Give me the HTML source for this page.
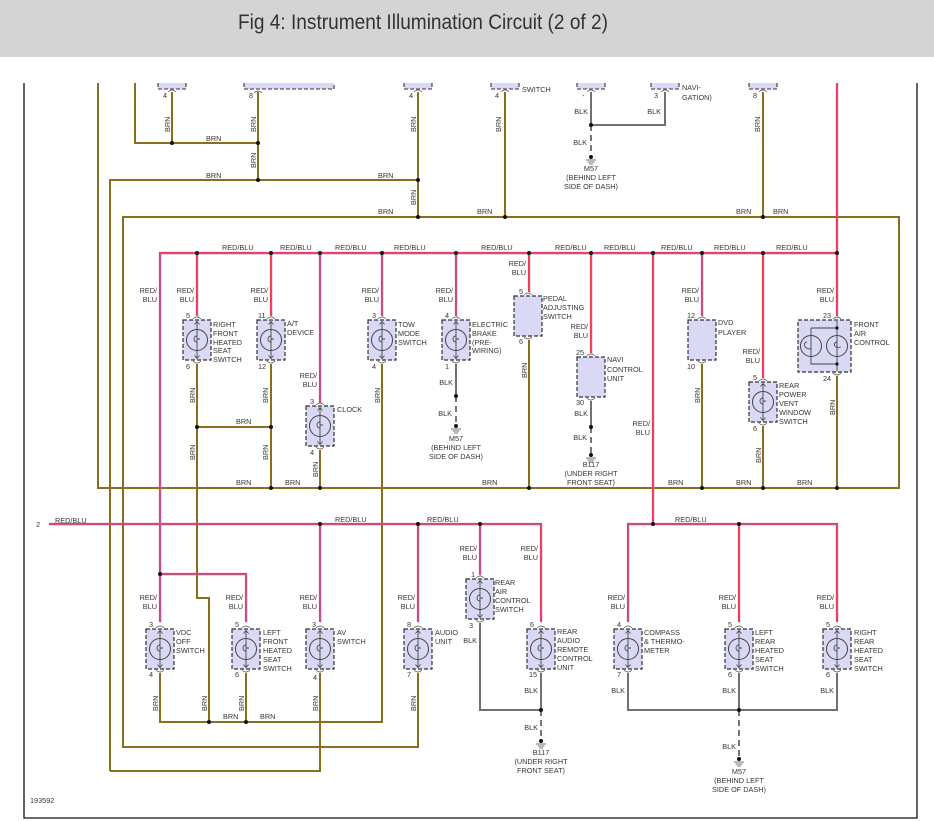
<!DOCTYPE html>
<html><head><meta charset="utf-8">
<style>
html,body{margin:0;padding:0;background:#fff;}
svg{display:block;}
text{font-family:"Liberation Sans",sans-serif;font-size:7.3px;fill:#3a3530;}
</style></head><body>
<svg width="934" height="821" viewBox="0 0 934 821" xmlns="http://www.w3.org/2000/svg">
<defs>
  <g id="lamp">
    <rect x="-14" y="0" width="28" height="40" fill="#d9d9f6" stroke="#333" stroke-width="1.2" stroke-dasharray="4,2"/>
    <circle cx="0" cy="20" r="10.5" fill="none" stroke="#444" stroke-width="1"/>
    <line x1="0" y1="2" x2="0" y2="38" stroke="#444" stroke-width="0.9"/>
    <path d="M-2.5,4.5 L0,1.5 L2.5,4.5 M-2.5,35.5 L0,38.5 L2.5,35.5" fill="none" stroke="#444" stroke-width="0.8"/>
    <path d="M0,16 C-4,16 -4,22 0,22 M0,19 L3,19" fill="none" stroke="#444" stroke-width="0.9"/>
    <path d="M-4,-1 Q0,-5 4,-1 M-4,41 Q0,45 4,41" fill="none" stroke="#555" stroke-width="0.8"/>
  </g>
  <g id="box">
    <rect x="-14" y="0" width="28" height="40" fill="#d9d9f6" stroke="#333" stroke-width="1.2" stroke-dasharray="4,2"/>
    <path d="M-4,-1 Q0,-5 4,-1 M-4,41 Q0,45 4,41" fill="none" stroke="#555" stroke-width="0.8"/>
  </g>
  <g id="stub">
    <path d="M-14,0 L-14,6 L14,6 L14,0" fill="#d9d9f6" stroke="#333" stroke-width="1.1" stroke-dasharray="4,2"/>
    <path d="M-4,9 Q0,5 4,9" fill="none" stroke="#555" stroke-width="0.8"/>
  </g>
  <g id="gnd">
    <circle cx="0" cy="0" r="2" fill="#111"/>
    <path d="M-5,3 H5 M-3.5,5 H3.5 M-2,7 H2" stroke="#444" stroke-width="0.8"/>
  </g>
</defs>

<rect x="0" y="0" width="934" height="57" fill="#d4d4d4"/>
<text x="238" y="29" style="font-size:21px;fill:#333" textLength="370" lengthAdjust="spacingAndGlyphs">Fig 4: Instrument Illumination Circuit (2 of 2)</text>

<path d="M24,83 V818 H917 V83" fill="none" stroke="#111" stroke-width="1.3"/>

<g fill="none" stroke="#8b6d1e" stroke-width="2">
  <path d="M98,83 V488 H899 V217 H123 V747 H418 V673"/>
  <path d="M110,771 V180 H418"/>
  <path d="M110,771 H320 V673"/>
  <path d="M135,83 V143 H258"/>
  <path d="M172,92 V143"/>
  <path d="M258,92 V180"/>
  <path d="M418,92 V217"/>
  <path d="M505,92 V217"/>
  <path d="M763,92 V217"/>
  <path d="M197,364 V598 H209 V722"/>
  <path d="M197,427 H271"/>
  <path d="M271,364 V488"/>
  <path d="M320,450 V488"/>
  <path d="M382,364 V722 H160 V673"/>
  <path d="M246,673 V722"/>
  <path d="M529,340 V488"/>
  <path d="M702,364 V488"/>
  <path d="M763,426 V488"/>
  <path d="M837,376 V488"/>
</g>

<g fill="none" stroke="#707070" stroke-width="2">
  <path d="M591,92 V125 H665 V92"/>
  <path d="M456,364 V396"/>
  <path d="M591,401 V427"/>
  <path d="M480,623 V710 H541 V673"/>
  <path d="M628,673 V710 H837 V673"/>
  <path d="M739,673 V710"/>
</g>
<g fill="none" stroke="#555" stroke-width="1.6" stroke-dasharray="6,4">
  <path d="M591,125 V156"/>
  <path d="M456,396 V425"/>
  <path d="M591,427 V453"/>
  <path d="M541,710 V739"/>
  <path d="M739,710 V757"/>
</g>

<g id="rb" fill="none">
  <path d="M160,622 V253 H837 V83"/>
  <path d="M160,574 H246 V622"/>
  <path d="M197,253 V316"/>
  <path d="M271,253 V316"/>
  <path d="M320,253 V403"/>
  <path d="M382,253 V316"/>
  <path d="M456,253 V316"/>
  <path d="M529,253 V292"/>
  <path d="M591,253 V353"/>
  <path d="M653,253 V524"/>
  <path d="M702,253 V316"/>
  <path d="M763,253 V378"/>
  <path d="M837,253 V316"/>
  <path d="M49,524 H541 V622"/>
  <path d="M320,524 V622"/>
  <path d="M418,524 V622"/>
  <path d="M480,524 V575"/>
  <path d="M628,622 V524 H837 V622"/>
  <path d="M739,524 V622"/>
</g>
<use href="#rb" stroke="#ee3c50" stroke-width="2.2"/>
<use href="#rb" stroke="#8a7ae8" stroke-width="0.6" transform="translate(0.9,0.9)"/>

<g fill="#111">
  <circle cx="172" cy="143" r="2"/><circle cx="258" cy="143" r="2"/>
  <circle cx="258" cy="180" r="2"/><circle cx="418" cy="180" r="2"/>
  <circle cx="418" cy="217" r="2"/><circle cx="505" cy="217" r="2"/><circle cx="763" cy="217" r="2"/>
  <circle cx="591" cy="125" r="2"/>
  <circle cx="197" cy="253" r="2"/><circle cx="271" cy="253" r="2"/><circle cx="320" cy="253" r="2"/>
  <circle cx="382" cy="253" r="2"/><circle cx="456" cy="253" r="2"/><circle cx="529" cy="253" r="2"/>
  <circle cx="591" cy="253" r="2"/><circle cx="653" cy="253" r="2"/><circle cx="702" cy="253" r="2"/>
  <circle cx="763" cy="253" r="2"/><circle cx="837" cy="253" r="2"/>
  <circle cx="197" cy="427" r="2"/><circle cx="271" cy="427" r="2"/>
  <circle cx="456" cy="396" r="2"/><circle cx="591" cy="427" r="2"/>
  <circle cx="271" cy="488" r="2"/><circle cx="320" cy="488" r="2"/><circle cx="529" cy="488" r="2"/>
  <circle cx="702" cy="488" r="2"/><circle cx="763" cy="488" r="2"/><circle cx="837" cy="488" r="2"/>
  <circle cx="320" cy="524" r="2"/><circle cx="418" cy="524" r="2"/><circle cx="480" cy="524" r="2"/>
  <circle cx="653" cy="524" r="2"/><circle cx="739" cy="524" r="2"/>
  <circle cx="160" cy="574" r="2"/>
  <circle cx="209" cy="722" r="2"/><circle cx="246" cy="722" r="2"/>
  <circle cx="541" cy="710" r="2"/><circle cx="739" cy="710" r="2"/>
</g>

<use href="#gnd" x="591" y="157"/>
<use href="#gnd" x="456" y="426"/>
<use href="#gnd" x="591" y="455"/>
<use href="#gnd" x="541" y="741"/>
<use href="#gnd" x="739" y="759"/>

<use href="#stub" x="172" y="83"/>
<path d="M244,83 V89 H334 V83" fill="#d9d9f6" stroke="#333" stroke-width="1.1" stroke-dasharray="4,2"/>
<path d="M254,93 Q258,89 262,93" fill="none" stroke="#555" stroke-width="0.8"/>
<use href="#stub" x="418" y="83"/>
<use href="#stub" x="505" y="83"/>
<use href="#stub" x="591" y="83"/>
<use href="#stub" x="665" y="83"/>
<use href="#stub" x="763" y="83"/>
<text x="163" y="98">4</text><text x="249" y="98">8</text><text x="409" y="98">4</text>
<text x="495" y="98">4</text><text x="582" y="98">-</text><text x="654" y="98">3</text><text x="753" y="98">8</text>
<text x="522" y="92">SWITCH</text><text x="682" y="90">NAVI-</text><text x="682" y="100">GATION)</text>

<use href="#lamp" x="197" y="320"/>
<use href="#lamp" x="271" y="320"/>
<use href="#lamp" x="320" y="406"/>
<use href="#lamp" x="382" y="320"/>
<use href="#lamp" x="456" y="320"/>
<use href="#box" x="528" y="296"/>
<use href="#box" x="591" y="357"/>
<use href="#box" x="702" y="320"/>
<use href="#lamp" x="763" y="382"/>
<g>
  <rect x="798" y="320" width="53" height="52" fill="#d9d9f6" stroke="#333" stroke-width="1.2" stroke-dasharray="4,2"/>
  <circle cx="811" cy="346" r="10.5" fill="none" stroke="#444"/>
  <circle cx="837" cy="346" r="10.5" fill="none" stroke="#444"/>
  <path d="M811,328 V364 H837 M811,328 H837 V364 M837,321 V371" fill="none" stroke="#444" stroke-width="0.9"/>
  <circle cx="837" cy="328" r="1.6" fill="#111"/><circle cx="837" cy="364" r="1.6" fill="#111"/>
  <path d="M807,342 C803,342 803,349 811,349 M837,342 C833,342 833,349 841,347" fill="none" stroke="#444" stroke-width="0.9"/>
  <path d="M833,319 Q837,315 841,319 M833,373 Q837,377 841,373" fill="none" stroke="#555" stroke-width="0.8"/>
</g>

<use href="#lamp" x="160" y="629"/>
<use href="#lamp" x="246" y="629"/>
<use href="#lamp" x="320" y="629"/>
<use href="#lamp" x="418" y="629"/>
<use href="#lamp" x="480" y="579"/>
<use href="#lamp" x="541" y="629"/>
<use href="#lamp" x="628" y="629"/>
<use href="#lamp" x="739" y="629"/>
<use href="#lamp" x="837" y="629"/>

<g>
<text x="186" y="318">5</text><text x="186" y="369">6</text>
<text x="258" y="318">11</text><text x="258" y="369">12</text>
<text x="310" y="404">3</text><text x="310" y="455">4</text>
<text x="372" y="318">3</text><text x="372" y="369">4</text>
<text x="445" y="318">4</text><text x="445" y="369">1</text>
<text x="519" y="294">5</text><text x="519" y="344">6</text>
<text x="576" y="355">25</text><text x="576" y="405">30</text>
<text x="687" y="318">12</text><text x="687" y="369">10</text>
<text x="753" y="380">5</text><text x="753" y="431">6</text>
<text x="823" y="318">23</text><text x="823" y="381">24</text>
<text x="149" y="627">3</text><text x="149" y="677">4</text>
<text x="235" y="627">5</text><text x="235" y="677">6</text>
<text x="312" y="627">3</text><text x="313" y="680">4</text>
<text x="407" y="627">8</text><text x="407" y="677">7</text>
<text x="471" y="577">1</text><text x="469" y="628">3</text>
<text x="530" y="627">6</text><text x="529" y="677">15</text>
<text x="617" y="627">4</text><text x="617" y="677">7</text>
<text x="728" y="627">5</text><text x="728" y="677">6</text>
<text x="826" y="627">5</text><text x="826" y="677">6</text>
</g>

<g>
<text x="213" y="327">RIGHT</text><text x="213" y="336">FRONT</text><text x="213" y="345">HEATED</text><text x="213" y="353">SEAT</text><text x="213" y="362">SWITCH</text>
<text x="287" y="326">A/T</text><text x="287" y="335">DEVICE</text>
<text x="337" y="412">CLOCK</text>
<text x="398" y="327">TOW</text><text x="398" y="336">MODE</text><text x="398" y="345">SWITCH</text>
<text x="472" y="327">ELECTRIC</text><text x="472" y="336">BRAKE</text><text x="472" y="345">(PRE-</text><text x="472" y="353">WIRING)</text>
<text x="543" y="301">PEDAL</text><text x="543" y="310">ADJUSTING</text><text x="543" y="319">SWITCH</text>
<text x="607" y="362">NAVI</text><text x="607" y="372">CONTROL</text><text x="607" y="381">UNIT</text>
<text x="718" y="325">DVD</text><text x="718" y="335">PLAYER</text>
<text x="779" y="388">REAR</text><text x="779" y="397">POWER</text><text x="779" y="406">VENT</text><text x="779" y="415">WINDOW</text><text x="779" y="424">SWITCH</text>
<text x="854" y="327">FRONT</text><text x="854" y="336">AIR</text><text x="854" y="345">CONTROL</text>
<text x="176" y="635">VDC</text><text x="176" y="644">OFF</text><text x="176" y="653">SWITCH</text>
<text x="263" y="635">LEFT</text><text x="263" y="644">FRONT</text><text x="263" y="653">HEATED</text><text x="263" y="662">SEAT</text><text x="263" y="671">SWITCH</text>
<text x="337" y="635">AV</text><text x="337" y="644">SWITCH</text>
<text x="435" y="635">AUDIO</text><text x="435" y="644">UNIT</text>
<text x="495" y="585">REAR</text><text x="495" y="594">AIR</text><text x="495" y="603">CONTROL</text><text x="495" y="612">SWITCH</text>
<text x="557" y="634">REAR</text><text x="557" y="643">AUDIO</text><text x="557" y="652">REMOTE</text><text x="557" y="661">CONTROL</text><text x="557" y="670">UNIT</text>
<text x="644" y="635">COMPASS</text><text x="644" y="644">&amp; THERMO-</text><text x="644" y="653">METER</text>
<text x="755" y="635">LEFT</text><text x="755" y="644">REAR</text><text x="755" y="653">HEATED</text><text x="755" y="662">SEAT</text><text x="755" y="671">SWITCH</text>
<text x="854" y="635">RIGHT</text><text x="854" y="644">REAR</text><text x="854" y="653">HEATED</text><text x="854" y="662">SEAT</text><text x="854" y="671">SWITCH</text>
</g>

<g text-anchor="middle">
<text x="591" y="171">M57</text><text x="591" y="180">(BEHIND LEFT</text><text x="591" y="189">SIDE OF DASH)</text>
<text x="456" y="441">M57</text><text x="456" y="450">(BEHIND LEFT</text><text x="456" y="459">SIDE OF DASH)</text>
<text x="591" y="467">B117</text><text x="591" y="476">(UNDER RIGHT</text><text x="591" y="485">FRONT SEAT)</text>
<text x="541" y="755">B117</text><text x="541" y="764">(UNDER RIGHT</text><text x="541" y="773">FRONT SEAT)</text>
<text x="739" y="774">M57</text><text x="739" y="783">(BEHIND LEFT</text><text x="739" y="792">SIDE OF DASH)</text>
</g>

<g>
<text x="206" y="141">BRN</text><text x="206" y="178">BRN</text><text x="378" y="178">BRN</text>
<text x="378" y="214">BRN</text><text x="477" y="214">BRN</text><text x="736" y="214">BRN</text><text x="773" y="214">BRN</text>
<text x="222" y="250">RED/BLU</text><text x="280" y="250">RED/BLU</text><text x="335" y="250">RED/BLU</text>
<text x="394" y="250">RED/BLU</text><text x="481" y="250">RED/BLU</text><text x="555" y="250">RED/BLU</text>
<text x="604" y="250">RED/BLU</text><text x="661" y="250">RED/BLU</text><text x="714" y="250">RED/BLU</text><text x="776" y="250">RED/BLU</text>
<text x="236" y="424">BRN</text>
<text x="236" y="485">BRN</text><text x="285" y="485">BRN</text><text x="482" y="485">BRN</text>
<text x="668" y="485">BRN</text><text x="736" y="485">BRN</text><text x="797" y="485">BRN</text>
<text x="55" y="523">RED/BLU</text><text x="335" y="522">RED/BLU</text><text x="427" y="522">RED/BLU</text><text x="675" y="522">RED/BLU</text>
<text x="36" y="527">2</text>
<text x="223" y="719">BRN</text><text x="260" y="719">BRN</text>
<text x="30" y="803">193592</text>
</g>
<g text-anchor="end">
<text x="157" y="293">RED/</text><text x="157" y="302">BLU</text>
<text x="194" y="293">RED/</text><text x="194" y="302">BLU</text>
<text x="268" y="293">RED/</text><text x="268" y="302">BLU</text>
<text x="317" y="378">RED/</text><text x="317" y="387">BLU</text>
<text x="379" y="293">RED/</text><text x="379" y="302">BLU</text>
<text x="453" y="293">RED/</text><text x="453" y="302">BLU</text>
<text x="526" y="266">RED/</text><text x="526" y="275">BLU</text>
<text x="588" y="329">RED/</text><text x="588" y="338">BLU</text>
<text x="650" y="426">RED/</text><text x="650" y="435">BLU</text>
<text x="699" y="293">RED/</text><text x="699" y="302">BLU</text>
<text x="760" y="354">RED/</text><text x="760" y="363">BLU</text>
<text x="834" y="293">RED/</text><text x="834" y="302">BLU</text>
<text x="157" y="600">RED/</text><text x="157" y="609">BLU</text>
<text x="243" y="600">RED/</text><text x="243" y="609">BLU</text>
<text x="317" y="600">RED/</text><text x="317" y="609">BLU</text>
<text x="415" y="600">RED/</text><text x="415" y="609">BLU</text>
<text x="477" y="551">RED/</text><text x="477" y="560">BLU</text>
<text x="538" y="551">RED/</text><text x="538" y="560">BLU</text>
<text x="625" y="600">RED/</text><text x="625" y="609">BLU</text>
<text x="736" y="600">RED/</text><text x="736" y="609">BLU</text>
<text x="834" y="600">RED/</text><text x="834" y="609">BLU</text>
<text x="588" y="114">BLK</text><text x="661" y="114">BLK</text><text x="587" y="145">BLK</text>
<text x="453" y="385">BLK</text><text x="452" y="416">BLK</text>
<text x="588" y="416">BLK</text><text x="587" y="440">BLK</text>
<text x="477" y="643">BLK</text><text x="538" y="693">BLK</text><text x="538" y="730">BLK</text>
<text x="625" y="693">BLK</text><text x="736" y="693">BLK</text><text x="736" y="749">BLK</text><text x="834" y="693">BLK</text>
</g>
<g>
<text transform="translate(170,132) rotate(-90)">BRN</text>
<text transform="translate(256,132) rotate(-90)">BRN</text>
<text transform="translate(256,168) rotate(-90)">BRN</text>
<text transform="translate(416,132) rotate(-90)">BRN</text>
<text transform="translate(501,132) rotate(-90)">BRN</text>
<text transform="translate(760,132) rotate(-90)">BRN</text>
<text transform="translate(416,205) rotate(-90)">BRN</text>
<text transform="translate(195,403) rotate(-90)">BRN</text>
<text transform="translate(195,460) rotate(-90)">BRN</text>
<text transform="translate(268,403) rotate(-90)">BRN</text>
<text transform="translate(268,460) rotate(-90)">BRN</text>
<text transform="translate(318,477) rotate(-90)">BRN</text>
<text transform="translate(380,403) rotate(-90)">BRN</text>
<text transform="translate(527,378) rotate(-90)">BRN</text>
<text transform="translate(700,403) rotate(-90)">BRN</text>
<text transform="translate(761,463) rotate(-90)">BRN</text>
<text transform="translate(835,415) rotate(-90)">BRN</text>
<text transform="translate(158,711) rotate(-90)">BRN</text>
<text transform="translate(207,711) rotate(-90)">BRN</text>
<text transform="translate(244,711) rotate(-90)">BRN</text>
<text transform="translate(318,711) rotate(-90)">BRN</text>
<text transform="translate(416,711) rotate(-90)">BRN</text>
</g>
</svg>
</body></html>
